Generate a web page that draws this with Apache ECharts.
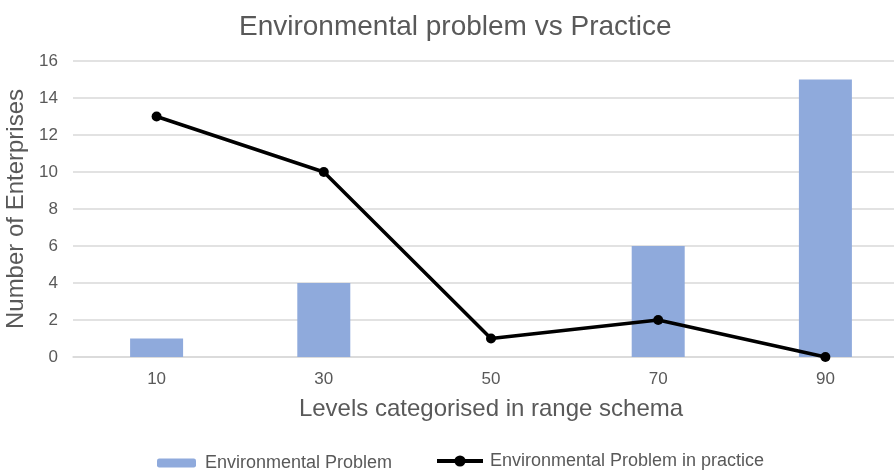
<!DOCTYPE html>
<html>
<head>
<meta charset="utf-8">
<script src="https://cdn.jsdelivr.net/npm/echarts@6/dist/echarts.min.js"></script>
<style>
  html, body { margin: 0; padding: 0; background: #fff; }
  #chart { width: 894px; height: 474px; }
</style>
</head>
<body>
<div id="chart"></div>
<script>
// Levels (range schema) on the x axis
const levels = ['10', '30', '50', '70', '90'];
// Count of enterprises reporting an environmental problem
const problemCounts = [1, 4, 0, 6, 15];
// Count of enterprises where the problem appears in practice
const practiceCounts = [13, 10, 1, 2, 0];

const textColor = '#595959';
const font = '"Liberation Sans", Arial, sans-serif';

const chart = echarts.init(document.getElementById('chart'));
chart.setOption({
  animation: false,
  title: {
    text: 'Environmental problem vs Practice',
    left: 234,
    top: 8,
    textStyle: { color: textColor, fontFamily: font, fontSize: 28, fontWeight: 'normal' }
  },
  legend: [
    {
      data: ['Environmental Problem'],
      left: 157,
      top: 454,
      padding: 0,
      itemWidth: 39,
      itemHeight: 9,
      itemGap: 8,
      textStyle: { color: textColor, fontFamily: font, fontSize: 18, padding: [0, 0, 0, 4] }
    },
    {
      data: ['Environmental Problem in practice'],
      left: 435,
      top: 452,
      padding: 0,
      itemWidth: 46,
      itemHeight: 14,
      lineStyle: { width: 4 },
      textStyle: { color: textColor, fontFamily: font, fontSize: 18, padding: [0, 0, 0, 2] }
    }
  ],
  grid: { left: 73, top: 61, width: 836, height: 296, outerBoundsMode: 'none', containLabel: false },
  xAxis: {
    type: 'category',
    data: levels,
    name: 'Levels categorised in range schema',
    nameLocation: 'middle',
    nameGap: 40,
    nameTextStyle: { color: textColor, fontFamily: font, fontSize: 24 },
    axisLine: { lineStyle: { color: '#D9D9D9', width: 1.5 } },
    axisTick: { show: false },
    axisLabel: { color: textColor, fontFamily: font, fontSize: 17, margin: 14 }
  },
  yAxis: {
    type: 'value',
    min: 0,
    max: 16,
    interval: 2,
    name: 'Number of Enterprises',
    nameLocation: 'middle',
    nameGap: 43,
    nameTextStyle: { color: textColor, fontFamily: font, fontSize: 24 },
    axisLine: { show: false },
    axisTick: { show: false },
    axisLabel: { color: textColor, fontFamily: font, fontSize: 17, margin: 15 },
    splitLine: { lineStyle: { color: '#D9D9D9', width: 1.5 } }
  },
  series: [
    {
      name: 'Environmental Problem',
      type: 'bar',
      data: problemCounts,
      barWidth: 53,
      itemStyle: { color: '#8FAADC' }
    },
    {
      name: 'Environmental Problem in practice',
      type: 'line',
      data: practiceCounts,
      symbol: 'circle',
      symbolSize: 10,
      lineStyle: { color: '#000', width: 3.5 },
      itemStyle: { color: '#000' }
    }
  ]
});
</script>
</body>
</html>
